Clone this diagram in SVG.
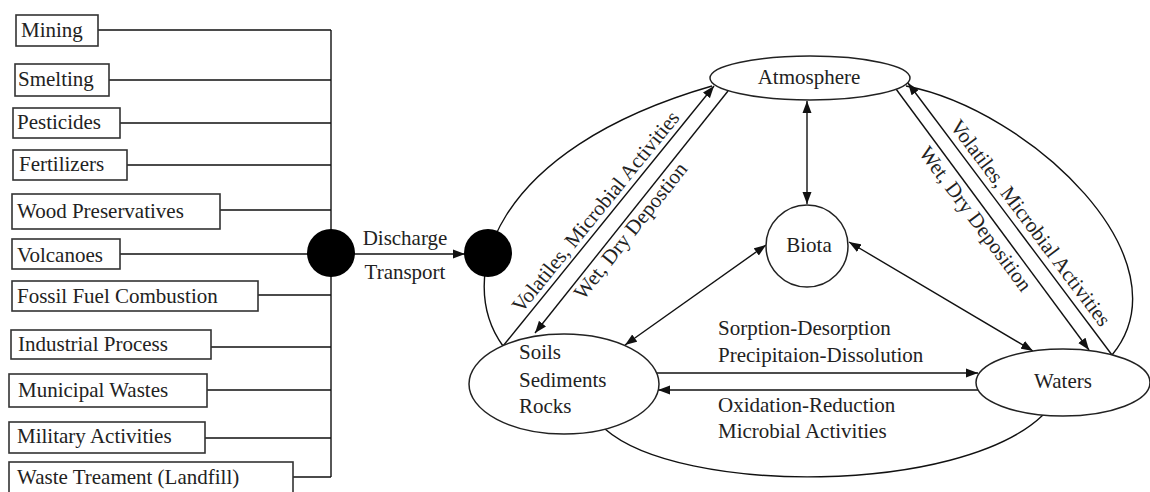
<svg xmlns="http://www.w3.org/2000/svg" width="1150" height="492" viewBox="0 0 1150 492">
<defs>
<marker id="ah" markerUnits="userSpaceOnUse" markerWidth="13" markerHeight="10" refX="12" refY="5" orient="auto-start-reverse" viewBox="0 0 13 10"><path d="M0,0.5 L12,5 L0,9.5 z" fill="#111"/></marker>
</defs>
<style>
text{font-family:"Liberation Serif","Times New Roman",serif;font-size:21px;fill:#222}
.box{fill:#fff;stroke:#333;stroke-width:1.6}
.ln{fill:none;stroke:#111;stroke-width:1.4}
.arr{marker-end:url(#ah)}
.bi{marker-start:url(#ah);marker-end:url(#ah)}
.nd{fill:#fff;stroke:#222;stroke-width:1.5}
.dot{fill:#000}
.m{text-anchor:middle}
</style>
<rect width="1150" height="492" fill="#fff"/>

<g id="connectors">
  <!-- source bus -->
  <path class="ln" d="M98,30 H331 M109,80 H331 M120,123 H331 M127,165 H331 M220,210 H331 M120,254 H331 M258,295 H331 M211,347 H331 M207,390 H331 M205,438 H331 M293,477 H331 M331,30 V477"/>
  <path class="ln arr" d="M355,254 L465,254"/>
  <!-- big curves -->
  <path class="ln" d="M503,346 C455,280 490,150 712,86"/>
  <path class="ln" d="M906,86 C1030,110 1190,260 1112,355"/>
  <path class="ln" d="M605,429 C680,495 960,495 1043,415"/>
  <!-- diagonals -->
  <path class="ln arr" d="M503,346 L714,86"/>
  <path class="ln arr" d="M728,91 L535,333"/>
  <path class="ln arr" d="M1112,355 L908,83"/>
  <path class="ln arr" d="M896,89 L1089,350"/>
  <!-- biota -->
  <path class="ln bi" d="M807,101 L807,204"/>
  <path class="ln bi" d="M625,345 L766,245"/>
  <path class="ln bi" d="M849,242 L1033,351"/>
  <!-- horizontal -->
  <path class="ln arr" d="M657,373 L978,373"/>
  <path class="ln arr" d="M979,390 L658,390"/>
  <!-- labels -->
  <text class="m" x="405" y="245">Discharge</text>
  <text class="m" x="405" y="279">Transport</text>
  <text class="m" x="601" y="216" transform="rotate(-50.9 601 216)">Volatiles, Microbial Activities</text>
  <text class="m" x="636" y="235" transform="rotate(-51.4 636 235)">Wet, Dry Depostion</text>
  <text class="m" x="1025" y="227" transform="rotate(53.1 1025 227)">Volatiles, Microbial Activities</text>
  <text class="m" x="970" y="223" transform="rotate(53.5 970 223)">Wet, Dry Deposition</text>
  <text x="718" y="335">Sorption-Desorption</text>
  <text x="718" y="362">Precipitaion-Dissolution</text>
  <text x="718" y="412">Oxidation-Reduction</text>
  <text x="718" y="438">Microbial Activities</text>
</g>

<g id="mining"><rect class="box" x="16" y="15" width="82" height="31"/><text x="21" y="37">Mining</text></g>
<g id="smelting"><rect class="box" x="15" y="64" width="94" height="32"/><text x="18" y="86">Smelting</text></g>
<g id="pesticides"><rect class="box" x="13" y="108" width="107" height="30"/><text x="17" y="129">Pesticides</text></g>
<g id="fertilizers"><rect class="box" x="13" y="150" width="114" height="30"/><text x="19" y="171">Fertilizers</text></g>
<g id="wood"><rect class="box" x="12" y="194" width="208" height="35"/><text x="17" y="218">Wood Preservatives</text></g>
<g id="volcanoes"><rect class="box" x="12" y="239" width="108" height="30"/><text x="17" y="262">Volcanoes</text></g>
<g id="fossil"><rect class="box" x="12" y="281" width="246" height="30"/><text x="17" y="303">Fossil Fuel Combustion</text></g>
<g id="industrial"><rect class="box" x="11" y="330" width="200" height="29"/><text x="18" y="351">Industrial Process</text></g>
<g id="municipal"><rect class="box" x="9" y="374" width="198" height="33"/><text x="18" y="397">Municipal Wastes</text></g>
<g id="military"><rect class="box" x="9" y="422" width="196" height="31"/><text x="17" y="443">Military Activities</text></g>
<g id="waste"><rect class="box" x="9" y="462" width="284" height="40"/><text x="17" y="484">Waste Treament (Landfill)</text></g>

<g id="dot1"><circle class="dot" cx="331" cy="253" r="24"/></g>
<g id="dot2"><circle class="dot" cx="488" cy="253" r="24"/></g>

<g id="atmosphere"><ellipse class="nd" cx="810" cy="78" rx="100" ry="22"/><text class="m" x="809" y="84">Atmosphere</text></g>
<g id="biota"><circle class="nd" cx="807" cy="246" r="41"/><text class="m" x="809" y="252">Biota</text></g>
<g id="soils"><ellipse class="nd" cx="564" cy="384" rx="95" ry="50"/><text x="519" y="359">Soils</text><text x="519" y="387">Sediments</text><text x="519" y="413">Rocks</text></g>
<g id="waters"><ellipse class="nd" cx="1063" cy="382.5" rx="87" ry="33.5"/><text class="m" x="1063" y="388">Waters</text></g>
</svg>
